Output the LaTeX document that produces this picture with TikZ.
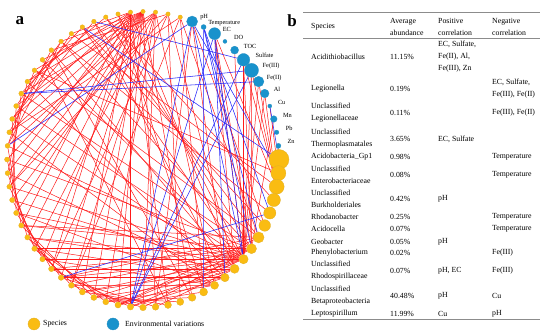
\documentclass[tikz,border=0pt]{standalone}
\usepackage{fontspec}
\setmainfont{Liberation Serif}
\usetikzlibrary{calc}
\pgfdeclarelayer{edges}
\pgfsetlayers{edges,main}

\definecolor{spcol}{RGB}{250,188,18}
\definecolor{envcol}{RGB}{24,146,204}
\definecolor{poscol}{RGB}{255,25,25}
\definecolor{negcol}{RGB}{40,40,250}
\definecolor{rulecol}{RGB}{140,140,140}

\begin{document}
\begin{tikzpicture}[x=1pt, y=-1pt,
        spnode/.style={circle, fill=spcol, draw=spcol!80!gray, line width=0.3pt, inner sep=0pt},
        envnode/.style={circle, fill=envcol, draw=envcol!85!gray, line width=0.3pt, inner sep=0pt},
        poslink/.style={poscol, line width=0.5pt},
        neglink/.style={negcol, line width=0.55pt},
        envlbl/.style={font=\fontsize{6.3}{7}\selectfont, anchor=west, inner sep=0pt},
        cell/.style={font=\fontsize{7.8}{12}\selectfont, anchor=west, align=left, inner sep=0pt},
        panel/.style={font=\fontsize{17}{17}\selectfont\bfseries, inner sep=0pt}
    ]
    \useasboundingbox (0,0) rectangle (550,336);

    \foreach \k/\rad in {1/10,2/7.5,3/7.5,4/6.6,5/6.1,6/5.8,7/5.5,8/5,9/4.7,10/4.5,11/4.2,12/4,13/4,14/3.8,
            15/3.6,16/3.5,17/3.4,18/3.3,19/3.2,20/3.1,21/3,22/3,23/3,24/2.9,25/2.8,26/2.8,27/2.7,28/2.7,
            29/2.6,30/2.6,31/2.6,32/2.6,33/2.5,34/2.5,35/2.5,36/2.5,37/2.5,38/2.5,39/2.5,40/2.5,41/2.4,
            42/2.4,43/2.4,44/2.4,45/2.3,46/2.3,47/2.3,48/2.3,49/2.3,50/2.2,51/2.2,52/2.2,53/2.2,54/2.2,55/2.2}
        \node[spnode, minimum size=2*\rad pt] (n\k) at ({143+136*cos((\k-1)*5.2941176)},{159.5+148*sin((\k-1)*5.2941176)}) {};

    \foreach \k/\rad/\txt/\dx in {56/5.5/pH/8,57/2.5/Temperature/4.5,58/6/EC/8,59/2/DO/9,60/4/TOC/9,
            61/6.3/Sulfate/12,62/7/Fe(III)/11,63/5.3/Fe(II)/8,64/4.3/Al/9,65/2/Cu/8,66/3.3/Mn/9,67/2.2/Pb/9,68/2.5/Zn/9}{
        \node[envnode, minimum size=2*\rad pt] (n\k) at ({143+136*cos((\k-1)*5.2941176)},{159.5+148*sin((\k-1)*5.2941176)}) {};
        \node[envlbl] (l\k) at ($(n\k)+(\dx,-4)$) {\txt};
    }

    \begin{pgfonlayer}{edges}
        \foreach \h/\ts in {52/{14,17,20,22,25,27,29,31,33,35,37,39,41,43,45}, 51/{16,19,23,26,30,34,38,42,46},
                53/{12,18,21,24,28,32,36,40}, 54/{10,15,26,33,44}, 55/{7,13,24,37},
                9/{19,21,23,25,27,29,31,33,36,39,43,47,50}, 8/{18,20,22,24,26,28,30,35,40,45,49},
                10/{17,20,23,26,29,32,38,44,51}, 11/{19,22,25,28,34,41}, 12/{21,24,27,31,37}, 7/{20,25,30,42,48},
                36/{42,45}, 37/{44}, 38/{46,48}, 39/{45}, 40/{47}, 41/{49}, 33/{40}, 34/{41}, 32/{39}, 31/{38},
                30/{36}, 29/{35}, 28/{34}, 27/{33}, 26/{32}, 25/{31}, 24/{29}, 23/{28},
                19/{26}, 20/{28}, 21/{29}, 22/{30}, 18/{24}, 17/{25}, 16/{23}, 15/{22}, 14/{21}, 13/{20},
                45/{5}, 46/{3}, 47/{6}, 48/{11}, 49/{4}, 50/{13}, 44/{14}, 43/{16}, 42/{2},
                58/{3,8,9,10}, 60/{9}, 61/{3,8,9}, 62/{3,8,9}, 63/{3,9}, 64/{3,9}, 66/{8}, 68/{3}, 56/{6,11,17}, 65/{2}}
            \foreach \t in \ts
                \draw[poslink] (n\h) -- (n\t);
        \foreach \h/\ts in {57/{5,7,8,13}, 19/{56,58,61,62}, 40/{62,63}, 36/{56}, 48/{61}, 47/{1},
                25/{5}, 56/{2,9}, 58/{9,11}, 65/{1}}
            \foreach \t in \ts
                \draw[neglink] (n\h) -- (n\t);
    \end{pgfonlayer}

    \node[panel] (pa) at (20,21) {a};
    \node[panel] (pb) at (292,21) {b};

    \draw[rulecol, line width=0.9pt] (303,12.7) -- (540,12.7);
    \draw[rulecol, line width=0.6pt] (303,38) -- (540,38);
    \draw[rulecol, line width=0.9pt] (303,319) -- (540,319);

    \node[cell] (hnm) at (311,26.5) {Species};
    \node[cell] (hav) at (390,26.5) {Average\\abundance};
    \node[cell] (hpc) at (438,26.5) {Positive\\correlation};
    \node[cell] (hnc) at (492,26.5) {Negative\\correlation};

    \foreach \y/\nm/\avg/\pc/\nc [count=\i] in {
            57/Acidithiobacillus/11.15\%/{EC, Sulfate,\\Fe(II), Al,\\Fe(III), Zn}/{},
            89/Legionella/0.19\%/{}/{EC, Sulfate,\\Fe(III), Fe(II)},
            113/{Unclassified\\Legionellaceae}/0.11\%/{}/{Fe(III), Fe(II)},
            139/{Unclassified\\Thermoplasmatales}/3.65\%/{EC, Sulfate}/{},
            157/Acidobacteria\_Gp1/0.98\%/{}/Temperature,
            175/{Unclassified\\Enterobacteriaceae}/0.08\%/{}/Temperature,
            199/{Unclassified\\Burkholderiales}/0.42\%/pH/{},
            217/Rhodanobacter/0.25\%/{}/Temperature,
            229/Acidocella/0.07\%/{}/Temperature,
            242/Geobacter/0.05\%/pH/{},
            253/Phenylobacterium/0.02\%/{}/Fe(III),
            271/{Unclassified\\Rhodospirillaceae}/0.07\%/{pH, EC}/Fe(III),
            296/{Unclassified\\Betaproteobacteria}/40.48\%/pH/Cu,
            314/Leptospirillum/11.99\%/Cu/pH}{
        \node[cell] (nm\i) at (311,\y) {\nm};
        \node[cell] (av\i) at (390,\y) {\avg};
        \node[cell] (pc\i) at (438,\y) {\pc};
        \node[cell] (nc\i) at (492,\y) {\nc};
    }

    \node[spnode, minimum size=12pt] (kys) at (34,324) {};
    \node[cell] (kyt) at (43,324) {Species};
    \node[envnode, minimum size=12pt] (kye) at (113,324) {};
    \node[cell] (ket) at (125,324) {Environmental variations};
\end{tikzpicture}
\end{document}
